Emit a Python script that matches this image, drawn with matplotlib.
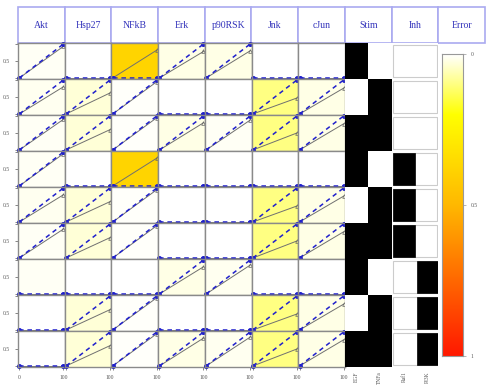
import numpy as np
import matplotlib
matplotlib.use("Agg")
import matplotlib.pyplot as plt
from matplotlib.colors import LinearSegmentedColormap
from matplotlib.patches import Rectangle

signals = ["Akt", "Hsp27", "NFkB", "Erk", "p90RSK", "Jnk", "cJun"]
stimuli = ["EGF", "TNFa"]
inhibitors = ["Raf1", "PI3K"]
times = [0, 100]

stim_matrix = [[1, 0], [0, 1], [1, 1],
               [1, 0], [0, 1], [1, 1],
               [1, 0], [0, 1], [1, 1]]
inh_matrix = [[0, 0], [0, 0], [0, 0],
              [1, 0], [1, 0], [1, 0],
              [0, 1], [0, 1], [0, 1]]

# measured value at t=0 is 0 everywhere; value at t=100:
data_t100 = [
    [0.93, 0.00, 0.82, 0.78, 0.80, 0.00, 0.00],
    [0.80, 0.62, 0.95, 0.00, 0.00, 0.47, 0.76],
    [0.90, 0.60, 0.95, 0.80, 0.88, 0.50, 0.77],
    [0.95, 0.00, 0.82, 0.00, 0.00, 0.00, 0.00],
    [0.80, 0.60, 0.95, 0.00, 0.00, 0.47, 0.76],
    [0.85, 0.60, 0.95, 0.00, 0.00, 0.50, 0.77],
    [0.00, 0.00, 0.00, 0.80, 0.85, 0.00, 0.00],
    [0.00, 0.60, 0.95, 0.00, 0.00, 0.47, 0.76],
    [0.00, 0.60, 0.95, 0.82, 0.85, 0.50, 0.77],
]
data_t0 = 0.0
# simulated value at t=100 (sim at t=0 is 0)
sim_t100 = [
    [1, 0, 0, 1, 1, 0, 0],
    [1, 1, 1, 0, 0, 1, 1],
    [1, 1, 1, 1, 1, 1, 1],
    [1, 0, 0, 0, 0, 0, 0],
    [1, 1, 1, 0, 0, 1, 1],
    [1, 1, 1, 0, 0, 1, 1],
    [0, 0, 0, 1, 1, 0, 0],
    [0, 1, 1, 0, 0, 1, 1],
    [0, 1, 1, 1, 1, 1, 1],
]
sim_t0 = 0.0
error = [
    [0.010, 0.000, 0.380, 0.020, 0.020, 0.000, 0.000],
    [0.015, 0.035, 0.005, 0.000, 0.000, 0.100, 0.022],
    [0.010, 0.035, 0.005, 0.020, 0.010, 0.100, 0.022],
    [0.008, 0.000, 0.380, 0.000, 0.000, 0.000, 0.000],
    [0.015, 0.035, 0.005, 0.000, 0.000, 0.100, 0.022],
    [0.010, 0.035, 0.005, 0.000, 0.000, 0.100, 0.022],
    [0.008, 0.000, 0.000, 0.020, 0.015, 0.000, 0.000],
    [0.000, 0.035, 0.005, 0.000, 0.000, 0.100, 0.022],
    [0.000, 0.035, 0.005, 0.020, 0.015, 0.100, 0.022],
]

cmap = LinearSegmentedColormap.from_list(
    "err", [(0.0, "#FFFFFF"), (0.2, "#FFFF00"), (0.5, "#FFB800"), (1.0, "#FF1800")])

W, H = 491, 391
fig = plt.figure(figsize=(W / 100, H / 100), dpi=100)


def add_ax(x0, y0, x1, y1, **kw):
    return fig.add_axes([x0 / W, 1 - y1 / H, (x1 - x0) / W, (y1 - y0) / H], **kw)


col_x = [18 + i * 46.7 for i in range(11)]
row_y = [43 + j * 36 for j in range(10)]
nrow = len(stim_matrix)
ncol = len(signals)

serif = "Liberation Serif"
hdr_col = "#3333BB"
hdr_edge = "#AAAAF0"
tick_col = "#555555"

# headers
headers = signals + ["Stim", "Inh", "Error"]
hax = add_ax(0, 0, W, H)
hax.set_xlim(0, W)
hax.set_ylim(H, 0)
hax.axis("off")
for i, name in enumerate(headers):
    hax.add_patch(Rectangle((col_x[i], 7), col_x[i + 1] - col_x[i], 36,
                            facecolor="white", edgecolor=hdr_edge, lw=1.2))
    hax.text((col_x[i] + col_x[i + 1]) / 2, 25, name, color=hdr_col,
             ha="center", va="center", fontsize=7, family=serif)

# signal cells
for r in range(nrow):
    for c in range(ncol):
        ax = add_ax(col_x[c], row_y[r], col_x[c + 1], row_y[r + 1])
        ax.set_facecolor(cmap(error[r][c]))
        ax.plot(times, [data_t0, data_t100[r][c]], color="#707070", lw=0.7,
                marker="^", ms=2.6, mfc="none", mec="#606060", mew=0.5)
        ax.plot(times, [sim_t0, sim_t100[r][c]], color="#2020CC", lw=1.1,
                ls=(0, (3, 2.5)), marker="o", ms=2.6, mec="#2020CC",
                clip_on=False)
        ax.set_xlim(-3, 103)
        ax.set_ylim(-0.03, 1.03)
        for s in ax.spines.values():
            s.set_color("#8a8a8a")
            s.set_linewidth(1.0)
        ax.set_xticks([0, 100] if r == nrow - 1 else [])
        if r == nrow - 1:
            ax.set_xticklabels(["0" if c == 0 else "", "100"])
        ax.set_yticks([0, 0.5, 1] if c == 0 else [])
        if c == 0:
            ax.set_yticklabels(["", "0.5", ""])
        ax.tick_params(labelsize=4, colors=tick_col, length=2, width=0.5,
                       pad=4, labelcolor=tick_col)
        for lab in ax.get_xticklabels() + ax.get_yticklabels():
            lab.set_family(serif)

# stimuli panel
sax = add_ax(col_x[7], row_y[0], col_x[8], row_y[-1])
sax.pcolormesh(np.array(stim_matrix), cmap="gray_r", vmin=0, vmax=1)
sax.set_xlim(0, len(stimuli))
sax.set_ylim(nrow, 0)
sax.set_yticks([])
sax.set_xticks(np.arange(len(stimuli)) + 0.5)
sax.set_xticklabels(stimuli, rotation=90, fontsize=4, color=tick_col, family=serif)
sax.tick_params(length=0, pad=3)
for s in sax.spines.values():
    s.set_visible(False)

# inhibitors panel
iax = add_ax(col_x[8], row_y[0], col_x[9], row_y[-1])
iax.set_xlim(0, len(inhibitors))
iax.set_ylim(nrow, 0)
for r in range(nrow):
    iax.add_patch(Rectangle((0.07, r + 0.05), 1.86, 0.9, facecolor="white",
                            edgecolor="#cccccc", lw=0.8))
    for k in range(len(inhibitors)):
        if inh_matrix[r][k]:
            iax.add_patch(Rectangle((k + 0.07 + (0.02 if k else 0), r + 0.05), 0.93, 0.9,
                                    facecolor="black", edgecolor="black", lw=0.5))
iax.set_yticks([])
iax.set_xticks(np.arange(len(inhibitors)) + 0.55)
iax.set_xticklabels(inhibitors, rotation=90, fontsize=4, color=tick_col, family=serif)
iax.tick_params(length=0, pad=3)
for s in iax.spines.values():
    s.set_visible(False)

# error colorbar
cax = add_ax(442, 54, 463, 356)
cax.imshow(np.linspace(0, 1, 256)[:, None], aspect="auto", cmap=cmap,
           extent=[0, 1, 1, 0])
cax.set_xticks([])
cax.yaxis.tick_right()
cax.set_yticks([0, 0.5, 1])
cax.set_yticklabels(["0", "0.5", "1"], fontsize=4, color=tick_col, family=serif)
cax.tick_params(axis="y", length=2, width=0.5, colors="#999999", labelcolor=tick_col)
for s in cax.spines.values():
    s.set_color("#999999")
    s.set_linewidth(0.8)

fig.savefig("out.png", dpi=100, facecolor="white")
